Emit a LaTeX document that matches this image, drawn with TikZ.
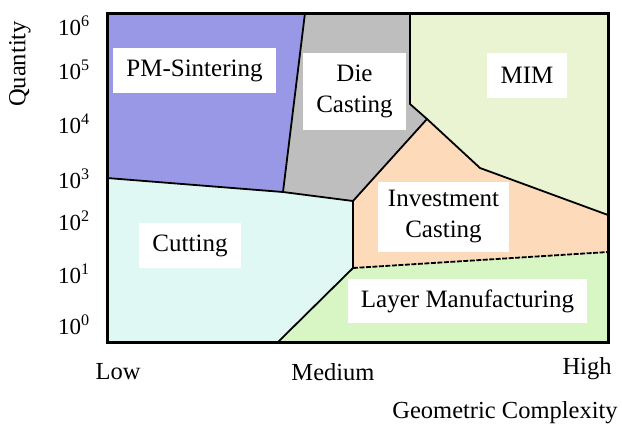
\documentclass[tikz,border=0pt]{standalone}
\usepackage{fontspec}
\setmainfont{Liberation Serif}
\begin{document}
\begin{tikzpicture}[x=1bp,y=-1bp,
  region/.style={draw=none},
  border/.style={draw=black,line width=1.8bp,line join=round},
  frame/.style={draw=black,line width=3bp},
  lbl/.style={fill=white,inner sep=0pt,align=center,font=\fontsize{25bp}{31bp}\selectfont},
  tick/.style={anchor=west,inner sep=0pt,font=\fontsize{23bp}{26bp}\selectfont},
  axis/.style={inner sep=0pt,font=\fontsize{24.5bp}{27bp}\selectfont}]
\useasboundingbox (0,0) rectangle (622,428);
\definecolor{pmcol}{RGB}{152,152,230}
\definecolor{diecol}{RGB}{190,190,190}
\definecolor{mimcol}{RGB}{234,244,210}
\definecolor{invcol}{RGB}{252,218,186}
\definecolor{cutcol}{RGB}{224,248,244}
\definecolor{laycol}{RGB}{216,245,196}
% corner and junction points
\coordinate (TL) at (107,13);
\coordinate (TR) at (608,13);
\coordinate (BL) at (107,342);
\coordinate (BR) at (608,342);
\coordinate (a) at (305,13);
\coordinate (b) at (283,192);
\coordinate (c) at (107,178);
\coordinate (d) at (410,13);
\coordinate (e) at (410,104);
\coordinate (f) at (427,119);
\coordinate (g) at (353,201);
\coordinate (h) at (480,168);
\coordinate (i) at (608,215);
\coordinate (j) at (608,252);
\coordinate (k) at (353,268);
\coordinate (l) at (278,342);
% regions
\fill[pmcol] (TL) -- (a) -- (b) -- (c) -- cycle;
\fill[diecol] (a) -- (d) -- (e) -- (f) -- (g) -- (b) -- cycle;
\fill[mimcol] (d) -- (TR) -- (i) -- (h) -- (f) -- (e) -- cycle;
\fill[invcol] (f) -- (h) -- (i) -- (j) -- (k) -- (g) -- cycle;
\fill[cutcol] (c) -- (b) -- (g) -- (k) -- (l) -- (BL) -- cycle;
\fill[laycol] (k) -- (j) -- (BR) -- (l) -- cycle;
% boundaries
\draw[border] (a) -- (b) -- (c);
\draw[border] (b) -- (g) -- (f) -- (e) -- (d);
\draw[border] (f) -- (h) -- (i);
\draw[border] (g) -- (k) -- (l);
\draw[border,dash pattern=on 5bp off 1.5bp] (k) -- (j);
\draw[frame] (TL) rectangle (BR);
% labels
\node[lbl,minimum width=163bp,minimum height=45bp] (pm) at (194.5,70.5) {PM-Sintering};
\node[lbl,minimum width=103bp,minimum height=77bp] (die) at (354.5,91.5) {Die\\Casting};
\node[lbl,minimum width=80bp,minimum height=45bp] (mim) at (527,75.5) {MIM};
\node[lbl,minimum width=131bp,minimum height=70bp] (inv) at (443.5,217) {Investment\\Casting};
\node[lbl,minimum width=102bp,minimum height=45bp] (cut) at (190,245.5) {Cutting};
\node[lbl,minimum width=239bp,minimum height=44bp] (lay) at (467.5,301) {Layer Manufacturing};
% tick labels
\node[tick] (t6) at (58,26) {10\textsuperscript{6}};
\node[tick] (t5) at (58,70) {10\textsuperscript{5}};
\node[tick] (t4) at (58,124) {10\textsuperscript{4}};
\node[tick] (t3) at (58,179) {10\textsuperscript{3}};
\node[tick] (t2) at (58,221) {10\textsuperscript{2}};
\node[tick] (t1) at (58,274) {10\textsuperscript{1}};
\node[tick] (t0) at (58,325) {10\textsuperscript{0}};
\node[axis,rotate=90] (qty) at (20,64) {Quantity};
\node[axis] (low) at (118,372) {Low};
\node[axis] (med) at (333,372) {Medium};
\node[axis] (high) at (587,369) {High};
\node[axis] (gc) at (505,413) {Geometric Complexity};
\end{tikzpicture}
\end{document}
